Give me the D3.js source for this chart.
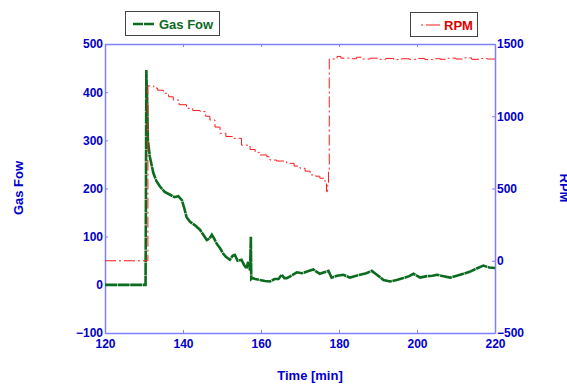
<!DOCTYPE html>
<html>
<head>
<meta charset="utf-8">
<script src="https://cdn.jsdelivr.net/npm/d3@7/dist/d3.min.js"></script>
<style>
  body { margin: 0; background: #fff; }
  svg text { font-family: Arial, "Liberation Sans", sans-serif; font-weight: bold; }
</style>
</head>
<body>
<div id="chart"></div>
<script>
// gas flow (left axis)
const gasTime = [120, 130.4, 130.5, 130.6, 130.8, 131.0, 131.5, 132.4, 133.2, 134.1, 135.3, 136.7, 137.8, 138.8, 139.7,
  140.3, 140.9, 141.8, 143.0, 144.4, 145.2, 146.1, 146.8, 147.4, 148.0, 148.6, 149.5, 150.3, 151.0, 152.0, 152.7,
  153.3, 154.0, 155.0, 155.6, 156.3, 156.7, 157.2, 157.4, 157.5, 157.8, 158.5, 159.7, 161.0, 162.3, 163.5, 164.5,
  165.3, 166.0, 166.6, 168.0, 169.2, 170.5, 172.0, 173.4, 174.3, 175.1, 176.2, 177.3, 178.1, 179.5, 181.1, 182.8,
  184.0, 185.4, 187.0, 188.4, 189.7, 190.5, 191.4, 193.1, 194.8, 196.5, 198.0, 199.1, 200.8, 202.5, 204.0, 205.1,
  206.8, 208.5, 210.2, 211.9, 213.5, 215.3, 217.0, 218.5, 220]
const gasFlow = [0, 0, 200, 446, 380, 300, 266, 232, 215, 204, 193, 187, 182, 184, 176,
  160, 141, 131, 124, 114, 104, 93, 96, 104, 96, 86, 76, 65, 58, 52, 60,
  62, 50, 52, 42, 34, 48, 30, 100, 12, 14, 12, 10, 8, 7, 12, 12,
  21, 14, 14, 20, 26, 24, 28, 32, 27, 23, 26, 29, 15, 19, 21, 15,
  18, 21, 24, 29, 21, 16, 10, 7, 10, 14, 18, 23, 15, 18, 19, 21,
  18, 15, 19, 23, 27, 34, 40, 36, 35]

// engine speed (right axis)
const rpmTime = [120, 130.9, 131.0, 132.5, 133.5, 135.0, 136.3, 137.5, 139.0, 140.9, 142.5, 144.4, 145.8, 146.9,
  148.2, 149.5, 151.0, 152.9, 155.0, 157.2, 158.5, 159.7, 161.5, 162.3, 164.0, 166.6, 168.5, 170.0, 171.3, 172.6,
  174.0, 175.1, 176.4, 176.8, 177.0, 177.3, 177.5, 179.5, 180.5, 183.0, 184.5, 186.0, 188.0, 190.0, 192.0, 194.0,
  196.0, 198.0, 200.0, 202.0, 204.0, 206.0, 208.0, 210.0, 212.0, 214.0, 216.0, 218.0, 220]
const rpm = [0, 0, 1210, 1195, 1180, 1159, 1135, 1112, 1080, 1055, 1040, 1032, 1000, 974,
  925, 882, 860, 847, 800, 770, 750, 732, 720, 697, 690, 674, 655, 640, 620, 594,
  585, 571, 547, 478, 520, 617, 1396, 1414, 1402, 1398, 1408, 1396, 1402, 1394, 1400, 1392,
  1398, 1394, 1400, 1392, 1398, 1394, 1402, 1396, 1404, 1394, 1400, 1396, 1396]

const xTicks = [120, 140, 160, 180, 200, 220]
const leftTicks = [-100, 0, 100, 200, 300, 400, 500]
const rightTicks = [-500, 0, 500, 1000, 1500]

const W = 567, H = 390
const pLeft = 105, pRight = 495, pTop = 44, pBottom = 333
const frameCol = "#8080ff", labelCol = "#0000cc"
const green = "#0b6b1f", red = "#ff1a1a"

const svg = d3.select("#chart").append("svg").attr("width", W).attr("height", H)

let x = d3.scaleLinear().domain([120, 220]).range([pLeft, pRight])
let yL = d3.scaleLinear().domain([-100, 500]).range([pBottom, pTop])
let yR = d3.scaleLinear().domain([-500, 1500]).range([pBottom, pTop])

// axes (ticks point inward)
let axB = svg.append("g").attr("transform", `translate(0,${pBottom})`)
  .call(d3.axisBottom(x).tickValues(xTicks).tickSizeInner(-3).tickSizeOuter(0).tickPadding(6))
let axT = svg.append("g").attr("transform", `translate(0,${pTop})`)
  .call(d3.axisTop(x).tickValues(xTicks).tickSizeInner(-3).tickSizeOuter(0).tickFormat(""))
let axL = svg.append("g").attr("transform", `translate(${pLeft},0)`)
  .call(d3.axisLeft(yL).tickValues(leftTicks).tickSizeInner(-3).tickSizeOuter(0).tickPadding(5))
let axR = svg.append("g").attr("transform", `translate(${pRight},0)`)
  .call(d3.axisRight(yR).tickValues(rightTicks).tickFormat(d3.format("d"))
    .tickSizeInner(-3).tickSizeOuter(0).tickPadding(5))

for (const ax of [axB, axT, axL, axR]) {
  ax.select(".domain").attr("stroke", frameCol).attr("stroke-width", 1.5)
  ax.selectAll(".tick line").attr("stroke", frameCol)
  ax.selectAll(".tick text").attr("fill", labelCol).attr("font-size", 12)
    .style("font-family", "Arial, 'Liberation Sans', sans-serif").style("font-weight", "bold")
}
axL.selectAll(".tick text").attr("dx", 3)
axR.selectAll(".tick text").attr("dx", -3)

// lines
let gasLine = d3.line().x((d, i) => x(gasTime[i])).y(d => yL(d))
svg.append("path").datum(gasFlow)
  .attr("d", gasLine)
  .attr("fill", "none").attr("stroke", green).attr("stroke-width", 2.6)
  .attr("stroke-dasharray", "12,0.6")

let rpmLine = d3.line().x((d, i) => x(rpmTime[i])).y(d => yR(d)).curve(d3.curveStepAfter)
svg.append("path").datum(rpm)
  .attr("d", rpmLine)
  .attr("fill", "none").attr("stroke", red).attr("stroke-width", 1)
  .attr("stroke-dasharray", "11,3,2,3")

// axis titles
svg.append("text").attr("x", 310).attr("y", 380).attr("text-anchor", "middle")
  .attr("fill", labelCol).attr("font-size", 13).text("Time [min]")
svg.append("text").attr("transform", "translate(23,188) rotate(-90)").attr("text-anchor", "middle")
  .attr("fill", labelCol).attr("font-size", 13).text("Gas Fow")
svg.append("text").attr("transform", "translate(560,188) rotate(90)").attr("text-anchor", "middle")
  .attr("fill", labelCol).attr("font-size", 13).text("RPM")

// legends
let lg = svg.append("g")
lg.append("rect").attr("x", 125.5).attr("y", 11.5).attr("width", 94).attr("height", 24)
  .attr("fill", "#fff").attr("stroke", "#444")
lg.append("line").attr("x1", 133).attr("x2", 155).attr("y1", 24).attr("y2", 24)
  .attr("stroke", green).attr("stroke-width", 2.6).attr("stroke-dasharray", "10,1")
lg.append("text").attr("x", 159).attr("y", 28.5).attr("fill", green).attr("font-size", 13).text("Gas Fow")

let lr = svg.append("g")
lr.append("rect").attr("x", 410.5).attr("y", 12.5).attr("width", 67).attr("height", 24)
  .attr("fill", "#fff").attr("stroke", "#444")
lr.append("line").attr("x1", 421).attr("x2", 440).attr("y1", 25).attr("y2", 25)
  .attr("stroke", red).attr("stroke-width", 1).attr("stroke-dasharray", "2,3,14,3")
lr.append("text").attr("x", 444).attr("y", 29.5).attr("fill", "#e00000").attr("font-size", 13).text("RPM")
</script>
</body>
</html>
